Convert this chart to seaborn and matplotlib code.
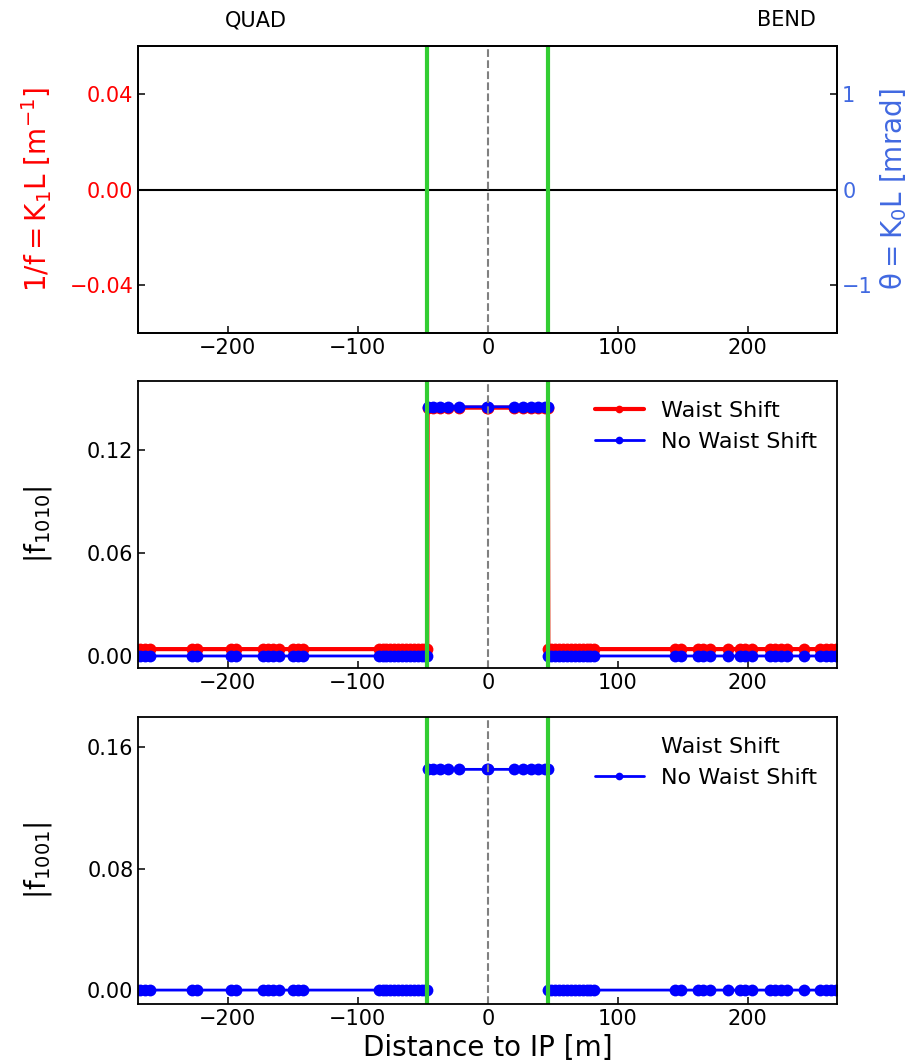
import numpy as np
import matplotlib
matplotlib.use("Agg")
import matplotlib.pyplot as plt
import seaborn as sns

# element positions (m from IP)
s_left = [-280, -268, -264, -260, -228, -224, -198, -194, -173, -169, -165, -161,
          -150, -146, -142, -84, -81, -78, -75, -72, -69, -66, -63, -60, -57,
          -54, -51, -48, -46.6]
s_mid = [-46.3, -42, -37, -31, -22, -0.5, 0.5, 20.5, 27, 33, 38.5, 44, 46.3]
s_right = [46.6, 49, 52, 55, 58, 61, 64, 67, 70, 73, 76, 79, 82, 144, 149, 162,
           166, 171, 185, 194, 198, 203, 217, 221, 226, 230, 243, 256, 260, 264,
           268, 280]

# RDT amplitudes outside / inside the IR
f1010_ws_out, f1010_ws_in = 0.004, 0.1445
f1010_nows_out, f1010_nows_in = 0.0, 0.145
f1001_nows_out, f1001_nows_in = 0.0, 0.1455

green_s = [-46.5, 46.5]

s = np.array(s_left + s_mid + s_right)
n_l, n_m, n_r = len(s_left), len(s_mid), len(s_right)


def profile(out_val, in_val):
    return np.array([out_val] * n_l + [in_val] * n_m + [out_val] * n_r)


sns.set_style("ticks")
plt.rcParams["font.family"] = ["DejaVu Sans"]
plt.rcParams.update({
    "xtick.direction": "in", "ytick.direction": "in",
    "xtick.major.size": 5, "ytick.major.size": 5,
    "xtick.major.width": 1.1, "ytick.major.width": 1.1,
    "axes.linewidth": 1.3, "axes.edgecolor": "black",
    "xtick.labelsize": 15, "ytick.labelsize": 15,
    "text.color": "black", "axes.labelcolor": "black",
    "xtick.color": "black", "ytick.color": "black",
})

fig = plt.figure(figsize=(9.12, 10.61), dpi=100)
ax1 = fig.add_axes([0.1516, 0.6861, 0.7665, 0.2705])
ax2 = fig.add_axes([0.1516, 0.3704, 0.7665, 0.2705])
ax3 = fig.add_axes([0.1516, 0.0537, 0.7665, 0.2705])


def markers(ax):
    for g in green_s:
        ax.axvline(g, color="limegreen", lw=3)
    ax.axvline(0, color="gray", ls="--", lw=1.5)


# ---- top: magnet strengths
ax1.axhline(0, color="black", lw=1.5)
markers(ax1)
ax1.set_ylim(-0.06, 0.06)
ax1.set_yticks([-0.04, 0.0, 0.04])
ax1.tick_params(axis="y", labelcolor="red")
ax1.set_ylabel(r"$\mathrm{1/f = K_1L\ [m^{-1}]}$", color="red", fontsize=20)
axr = ax1.twinx()
axr.set_ylim(-1.5, 1.5)
axr.set_yticks([-1, 0, 1])
axr.tick_params(axis="y", labelcolor="royalblue", direction="in", labelsize=15)
axr.set_ylabel(r"$\mathrm{\theta = K_0L\ [mrad]}$", color="royalblue", fontsize=20)
fig.text(0.281, 0.981, "QUAD", ha="center", va="center", fontsize=15)
fig.text(0.862, 0.981, "BEND", ha="center", va="center", fontsize=15)

# ---- middle: |f1010|
sns.lineplot(x=s, y=profile(f1010_ws_out, f1010_ws_in), ax=ax2, color="red",
             lw=3, marker="o", markersize=8.5, markeredgewidth=0,
             estimator=None, label="Waist Shift")
sns.lineplot(x=s, y=profile(f1010_nows_out, f1010_nows_in), ax=ax2, color="blue",
             lw=2, marker="o", markersize=8.5, markeredgewidth=0,
             estimator=None, label="No Waist Shift")
markers(ax2)
ax2.set_ylim(-0.007, 0.16)
ax2.set_yticks([0.0, 0.06, 0.12])
ax2.set_ylabel(r"$|\mathrm{f_{1010}}|$", fontsize=20)
ax2.legend(loc="upper right", frameon=False, fontsize=16, markerscale=0.65,
           handlelength=2.2)

# ---- bottom: |f1001|
ax3.plot([], [], color="none", label="Waist Shift")
sns.lineplot(x=s, y=profile(f1001_nows_out, f1001_nows_in), ax=ax3, color="blue",
             lw=2, marker="o", markersize=8.5, markeredgewidth=0,
             estimator=None, label="No Waist Shift")
markers(ax3)
ax3.set_ylim(-0.0092, 0.18)
ax3.set_yticks([0.0, 0.08, 0.16])
ax3.set_ylabel(r"$|\mathrm{f_{1001}}|$", fontsize=20)
ax3.set_xlabel("Distance to IP [m]", fontsize=20)
ax3.legend(loc="upper right", frameon=False, fontsize=16, markerscale=0.65,
           handlelength=2.2)

for ax in (ax1, ax2, ax3):
    ax.set_xlim(-269, 269)
    ax.set_xticks([-200, -100, 0, 100, 200])
    ax.yaxis.set_label_coords(-0.12, 0.5)
ax2.set_xlabel("")

fig.savefig("out.png", dpi=100)
